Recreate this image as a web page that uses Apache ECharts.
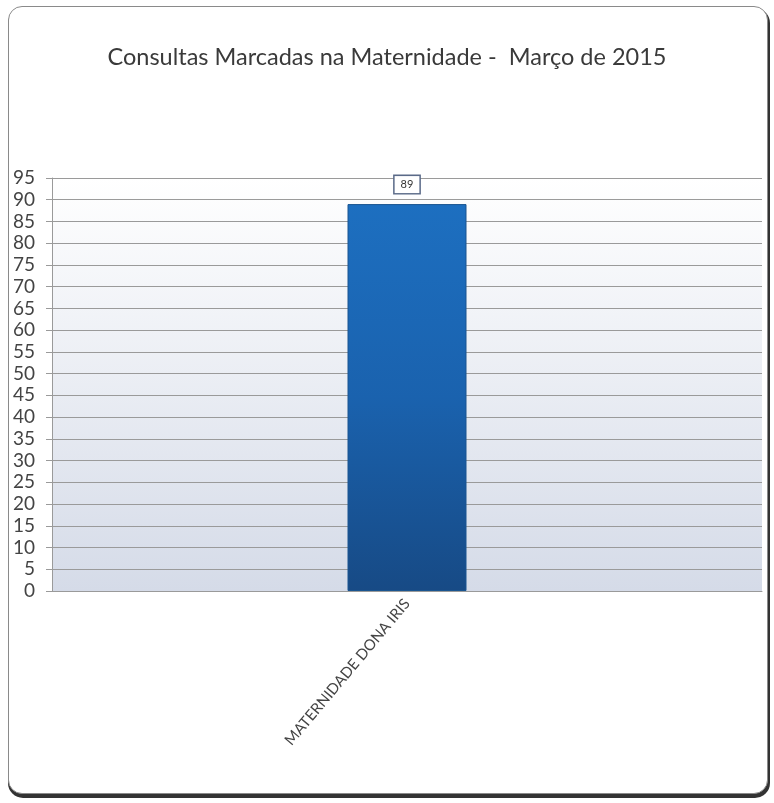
<!DOCTYPE html>
<html>
<head>
<meta charset="utf-8">
<script src="https://cdn.jsdelivr.net/npm/echarts@6/dist/echarts.min.js"></script>
<style>
html,body{margin:0;padding:0;background:#fff;}
#card{position:absolute;left:8px;top:6px;width:758px;height:786px;border:1px solid #8a8a8a;border-radius:14px;box-shadow:1px 3px 0 1px #333;background:#fff;}
#chart{position:absolute;left:0;top:0;width:774px;height:803px;}
</style>
</head>
<body>
<div id="card"></div>
<div id="chart"></div>
<script>
var categories = ['MATERNIDADE DONA IRIS'];
var consultas = [89];
var yMin = 0, yMax = 95, yStep = 5;

var chart = echarts.init(document.getElementById('chart'));
chart.setOption({
  backgroundColor: 'transparent',
  title: {
    text: 'Consultas Marcadas na Maternidade -  Março de 2015',
    left: 'center',
    top: 40,
    textStyle: {fontFamily: 'Lato', fontSize: 23.5, fontWeight: 'normal', color: '#3a3a3a'}
  },
  grid: {
    left: 52, right: 12, top: 178, bottom: 212,
    show: true,
    borderWidth: 0,
    backgroundColor: {
      type: 'linear', x: 0, y: 0, x2: 0, y2: 1,
      colorStops: [{offset: 0, color: '#ffffff'}, {offset: 1, color: '#d5dbe8'}]
    }
  },
  xAxis: {
    type: 'category',
    data: categories,
    axisLine: {show: true, lineStyle: {color: '#9a9a9a'}},
    axisTick: {show: false},
    axisLabel: {rotate: 50, fontFamily: 'Lato', fontSize: 15, color: '#444', margin: 10}
  },
  yAxis: {
    type: 'value',
    min: yMin, max: yMax, interval: yStep,
    axisLine: {show: true, lineStyle: {color: '#9a9a9a'}},
    axisTick: {show: true, inside: false, length: 6, lineStyle: {color: '#9a9a9a'}},
    splitLine: {show: true, lineStyle: {color: '#9a9a9a', width: 1}},
    axisLabel: {fontFamily: 'Lato', fontSize: 19, color: '#444', margin: 17}
  },
  series: [{
    type: 'bar',
    data: consultas,
    barWidth: 119,
    itemStyle: {
      color: {
        type: 'linear', x: 0, y: 0, x2: 0, y2: 1,
        colorStops: [
          {offset: 0, color: '#1d6fc0'},
          {offset: 0.5, color: '#1a62ae'},
          {offset: 1, color: '#174a85'}
        ]
      },
      borderColor: '#1a5590', borderWidth: 1
    },
    label: {
      show: true, position: 'top', distance: 11,
      fontFamily: 'Lato', fontSize: 11, color: '#333',
      backgroundColor: '#fff', borderColor: '#5a6a88', borderWidth: 1.5,
      padding: [3, 6, 3, 6]
    }
  }]
});
</script>
</body>
</html>
